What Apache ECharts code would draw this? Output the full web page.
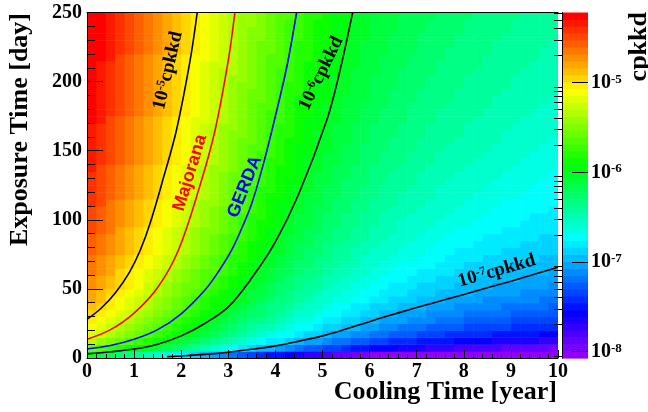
<!DOCTYPE html>
<html><head><meta charset="utf-8">
<script src="https://cdn.jsdelivr.net/npm/echarts@6/dist/echarts.min.js"></script>
<style>html,body{margin:0;padding:0;background:#fff}#c{width:648px;height:412px}</style>
</head><body><div id="c"></div>
<script>
// ---- binning of the 2D histogram (like a TH2: 50 x 50 bins) ----
const coolingRange = [0, 10];      // years
const exposureRange = [0, 250];    // days
const nCoolingBins = 50;
const nExposureBins = 50;

// ---- estimated rates (micro-cpkkd) : two components read/ ----
// Ge-68-like (short-lived) component: saturated rate after each cooling-time bin
const ge68Decay = [141.1,117.1,97.14,80.59,66.86,55.47,46.02,38.18,31.67,26.27,21.79,18.08,15.00,12.44,10.32,8.562,7.103,5.893,4.889,4.056,3.365,2.792,2.316,1.921,1.594,1.322,1.097,0.9101,0.7550,0.6264,0.5197,0.4311,0.3576,0.2967,0.2461,0.2042,0.1694,0.1405,0.1166,0.09673,0.08025,0.06658,0.05523,0.04582,0.03801,0.03153,0.02616,0.02170,0.01800,0.01493];
// Co-60-like (long-lived) component: saturated rate after each cooling-time bin
const co60Decay = [15.79,15.38,14.98,14.59,14.21,13.84,13.48,13.13,12.79,12.46,12.14,11.82,11.52,11.22,10.93,10.64,10.37,10.10,9.836,9.581,9.332,9.090,8.854,8.624,8.400,8.182,7.970,7.763,7.562,7.366,7.175,6.989,6.807,6.631,6.459,6.291,6.128,5.969,5.814,5.663,5.516,5.373,5.234,5.098,4.966,4.837,4.711,4.589,4.470,4.354];
// fraction of saturation reached for each exposure-time bin
const ge68Buildup = [0.00638,0.0190,0.0315,0.0438,0.0559,0.0679,0.0798,0.0915,0.1030,0.1144,0.1257,0.1368,0.1478,0.1586,0.1693,0.1798,0.1903,0.2006,0.2107,0.2207,0.2306,0.2404,0.2501,0.2596,0.2690,0.2783,0.2875,0.2965,0.3055,0.3143,0.3230,0.3316,0.3401,0.3485,0.3568,0.3650,0.3730,0.3810,0.3889,0.3966,0.4043,0.4119,0.4193,0.4267,0.4340,0.4412,0.4483,0.4553,0.4622,0.4691];
const co60Buildup = [0.00090,0.002696,0.004490,0.006280,0.008067,0.009851,0.011632,0.013409,0.015184,0.016955,0.018723,0.020487,0.022249,0.024007,0.025762,0.027514,0.029263,0.031009,0.032752,0.034491,0.036227,0.037961,0.039691,0.041418,0.043142,0.044863,0.046580,0.048295,0.050007,0.051715,0.053421,0.055123,0.056822,0.058519,0.060212,0.061902,0.063589,0.065273,0.066954,0.068632,0.070307,0.071980,0.073649,0.075315,0.076978,0.078638,0.080295,0.081949,0.083600,0.085249];

// ---- colour scale (log10 cpkkd) ----
const colorRange = [-8.07, -4.217];
const colorLabels = [-8, -7, -6, -5];

// ---- contour curves [cooling year, exposure day] ----
const contour1e5 = [[0,28],[0.3,36],[0.6,47],[0.9,62],[1.13,78],[1.34,97.5],[1.62,130],[1.9,165],[2.19,215.5],[2.34,250]];
const contourMajorana = [[0,13.5],[0.5,20.5],[1.0,32.5],[1.5,51],[1.94,78],[2.4,125],[2.72,165],[3.0,215.5],[3.14,250]];
const contourGERDA = [[0,6.5],[0.5,9],[1,13.5],[1.5,20.5],[2,32],[2.5,49],[2.8,63],[3.07,78],[3.3,95],[3.5,112],[3.75,141],[4.0,175],[4.25,212],[4.45,250]];
const contour1e6 = [[0,3],[0.5,4.5],[1,6.5],[1.5,10],[2,16],[2.5,25],[3,37],[3.5,58],[4,84],[4.5,119],[5.09,172],[5.35,205],[5.64,250]];
const contour1e7 = [[1.7,1.0],[2,1.5],[2.5,2.6],[3,4.2],[3.5,6.3],[4,8.8],[4.5,12.2],[5,16],[5.5,21],[6,26.3],[6.22,28.7],[7,36.5],[8,46],[9,55.6],[10,65.6]];

// label anchors [cooling year, exposure day]
const labelAnchors = {e5:[1.72,208], maj:[2.19,134], gerda:[3.35,124], e6:[4.97,206], e7:[8.70,63]};

// ---- palette (ROOT "pretty" palette: 50 hues, violet -> red) ----
function hue2rgb(h){
  const f = n => { const k = (n + h/30) % 12; return Math.round(255*(0.5 - 0.5*Math.max(-1, Math.min(k-3, 9-k, 1)))); };
  return 'rgb(' + f(0) + ',' + f(8) + ',' + f(4) + ')';
}
const palette = [];
for (let k = 0; k < 50; k++) palette.push(hue2rgb(280 - (k+1)*5.6));
const step = (colorRange[1]-colorRange[0])/50;
const pieces = palette.map((c,k) => { const p = {color:c}; if (k>0) p.gte = colorRange[0]+k*step; if (k<49) p.lt = colorRange[0]+(k+1)*step; return p; });
const bands = palette.map((c,k) => [k, colorRange[0]+k*step, colorRange[0]+(k+1)*step]);

// ---- histogram table built from the component arrays ----
const cw = (coolingRange[1]-coolingRange[0])/nCoolingBins;
const ew = (exposureRange[1]-exposureRange[0])/nExposureBins;
const cells = [];
for (let i = 0; i < nCoolingBins; i++) {
  for (let j = 0; j < nExposureBins; j++) {
    const v = (ge68Decay[i]*ge68Buildup[j] + co60Decay[i]*co60Buildup[j]) * 1e-6;
    cells.push([coolingRange[0]+i*cw, exposureRange[0]+j*ew, coolingRange[0]+(i+1)*cw, exposureRange[0]+(j+1)*ew, Math.log10(v)]);
  }
}
const minorTicks = [];
for (let n = -9; n <= -5; n++) for (let m = 2; m <= 9; m++) { const v = n + Math.log10(m); if (v >= colorRange[0] && v <= colorRange[1]) minorTicks.push(v); }

const SERIF = '"Liberation Serif", "Times New Roman", serif';
const SANS = '"Liberation Sans", Arial, sans-serif';
const tickFont = {fontFamily: SERIF, fontWeight: 'bold', fontSize: 20, color: '#000'};
const black = {color: '#000', width: 1};

const chart = echarts.init(document.getElementById('c'), null, {renderer: 'canvas'});
const lineSeries = (data, color) => ({type:'line', xAxisIndex:0, yAxisIndex:0, data, smooth:0.35, symbol:'none', clip:true, z:5, silent:true, lineStyle:{color, width:1.6}});

chart.setOption({
  animation: false,
  backgroundColor: '#fff',
  grid: [
    {left: 87, right: 90, top: 12.5, bottom: 54},
    {left: 562, width: 26, top: 12.5, bottom: 54}
  ],
  xAxis: [
    {gridIndex:0, type:'value', min:0, max:10, interval:1, z:10,
     axisLine:{lineStyle:black}, axisTick:{inside:true, length:8, lineStyle:black},
     minorTick:{show:true, splitNumber:5, length:4, lineStyle:black},
     splitLine:{show:false}, axisLabel:Object.assign({margin:4}, tickFont)},
    {gridIndex:0, type:'value', position:'top', min:0, max:10, z:10,
     axisLine:{show:true, lineStyle:black}, axisTick:{show:false}, axisLabel:{show:false}, splitLine:{show:false}},
    {gridIndex:1, type:'value', min:0, max:1, show:false}
  ],
  yAxis: [
    {gridIndex:0, type:'value', min:0, max:250, interval:50, z:10,
     axisLine:{lineStyle:black}, axisTick:{inside:true, length:16, lineStyle:black},
     minorTick:{show:true, splitNumber:5, length:8, lineStyle:black},
     splitLine:{show:false}, axisLabel:Object.assign({margin:5}, tickFont)},
    {gridIndex:1, type:'value', position:'right', min:colorRange[0], max:colorRange[1], z:10,
     axisLine:{show:true, lineStyle:black},
     axisTick:{show:true, inside:true, length:8, lineStyle:black, customValues:minorTicks},
     axisLabel:{show:false}, splitLine:{show:false}},
    {gridIndex:1, type:'value', position:'right', min:colorRange[0], max:colorRange[1], z:10,
     axisLine:{show:false},
     axisTick:{show:true, inside:true, length:16, lineStyle:black, customValues:colorLabels},
     axisLabel:{show:true, margin:3, customValues:colorLabels,
       formatter: v => '{b|10}{s|' + Math.round(v) + '}',
       rich:{ b:{fontFamily:SERIF, fontWeight:'bold', fontSize:20, color:'#000', verticalAlign:'bottom'},
              s:{fontFamily:SERIF, fontWeight:'bold', fontSize:13, color:'#000', verticalAlign:'top'} }},
     splitLine:{show:false}}
  ],
  visualMap: {type:'piecewise', show:false, dimension:4, seriesIndex:0, pieces},
  series: [
    {type:'custom', xAxisIndex:0, yAxisIndex:0, data:cells, encode:{x:[0,2], y:[1,3]}, clip:true, z:1, silent:true,
     renderItem:(params, api) => {
       const a = api.coord([api.value(0), api.value(1)]);
       const b = api.coord([api.value(2), api.value(3)]);
       return {type:'rect', shape:{x:a[0], y:b[1], width:b[0]-a[0]+0.6, height:a[1]-b[1]+0.6}, style:{fill:api.visual('color')}};
     }},
    {type:'custom', xAxisIndex:2, yAxisIndex:1, data:bands, encode:{y:[1,2]}, z:1, silent:true,
     renderItem:(params, api) => {
       const k = api.value(0);
       const a = api.coord([0, api.value(1)]);
       const b = api.coord([1, api.value(2)]);
       return {type:'rect', shape:{x:a[0], y:b[1], width:b[0]-a[0], height:a[1]-b[1]+0.6}, style:{fill:palette[k]}};
     }},
    lineSeries(contour1e5, '#000'),
    lineSeries(contourMajorana, '#ff0000'),
    lineSeries(contourGERDA, '#0000ff'),
    lineSeries(contour1e6, '#000'),
    lineSeries(contour1e7, '#000')
  ]
});

function px(p){ return chart.convertToPixel({gridIndex:0}, p); }
const supRich = {
  n:{fontFamily:SERIF, fontWeight:'bold', fontSize:19, fill:'#000', verticalAlign:'bottom'},
  s:{fontFamily:SERIF, fontWeight:'bold', fontSize:12, fill:'#000', verticalAlign:'top'}
};
function rotText(pos, deg, style){
  return {type:'text', x:pos[0], y:pos[1], rotation:deg*Math.PI/180, z:100, silent:true,
    style:Object.assign({align:'center', verticalAlign:'middle', textAlign:'center', textVerticalAlign:'middle'}, style)};
}
chart.setOption({
  graphic: [
    rotText(px(labelAnchors.e5), 77, {text:'{n|10}{s|-5}{n|cpkkd}', rich:supRich}),
    rotText(px(labelAnchors.e6), 64, {text:'{n|10}{s|-6}{n|cpkkd}', rich:supRich}),
    rotText(px(labelAnchors.e7), 16, {text:'{n|10}{s|-7}{n|cpkkd}', rich:supRich}),
    rotText(px(labelAnchors.maj), 73, {text:'Majorana', fill:'#ff0000', font:'bold 18px ' + SANS}),
    rotText(px(labelAnchors.gerda), 68, {text:'GERDA', fill:'#0000ff', font:'bold 18px ' + SANS}),
    {type:'text', x:557, y:392, z:100, silent:true,
     style:{text:'Cooling Time [year]', fill:'#000', font:'bold 26px ' + SERIF, align:'right', verticalAlign:'middle', textAlign:'right', textVerticalAlign:'middle'}},
    {type:'text', x:20.5, y:13, rotation:Math.PI/2, z:100, silent:true,
     style:{text:'Exposure Time [day]', fill:'#000', font:'bold 26px ' + SERIF, align:'right', verticalAlign:'middle', textAlign:'right', textVerticalAlign:'middle'}},
    {type:'text', x:639, y:12, rotation:Math.PI/2, z:100, silent:true,
     style:{text:'cpkkd', fill:'#000', font:'bold 26px ' + SERIF, align:'right', verticalAlign:'middle', textAlign:'right', textVerticalAlign:'middle'}}
  ]
});
</script>
</body></html>
